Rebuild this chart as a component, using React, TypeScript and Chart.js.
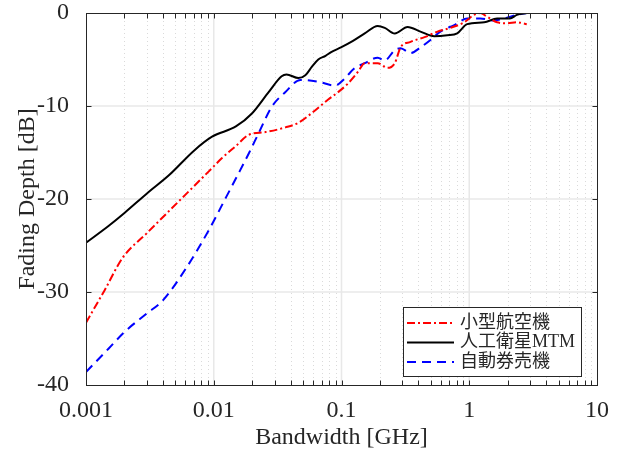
import React, { useEffect, useRef } from 'react';
import { Chart, registerables } from 'chart.js';

Chart.register(...registerables);

// ---- data ----
const seriesLabels = ['小型航空機', '人工衛星MTM', '自動券売機'];
const seriesColors = ['#ff0000', '#000000', '#0000ff'];

const aircraftX = [0.001, 0.0014, 0.00194, 0.00298, 0.00537, 0.00919, 0.0116, 0.0149, 0.0188, 0.0255, 0.0364, 0.046, 0.058, 0.0787, 0.0942, 0.112, 0.135, 0.152, 0.192, 0.23, 0.261, 0.29, 0.347, 0.447, 0.564, 0.711, 0.913, 1.09, 1.22, 1.38, 1.65, 1.97, 2.36, 2.82];
const aircraftY = [-33.3, -29.8, -26.3, -23.7, -20.2, -17.0, -15.6, -14.3, -13.1, -12.8, -12.3, -11.8, -10.8, -9.3, -8.5, -7.6, -6.3, -5.4, -5.4, -5.9, -5.4, -3.7, -3.1, -2.6, -2.0, -1.6, -1.0, -0.2, 0, -0.4, -1.0, -1.1, -1.0, -1.2];

const satelliteX = [0.001, 0.0015, 0.002, 0.003, 0.0045, 0.007, 0.0097, 0.0149, 0.0199, 0.0269, 0.034, 0.0371, 0.046, 0.0521, 0.0585, 0.0658, 0.075, 0.083, 0.099, 0.123, 0.152, 0.192, 0.218, 0.261, 0.329, 0.415, 0.533, 0.673, 0.805, 0.963, 1.31, 1.65, 2.08, 2.36, 2.82];
const satelliteY = [-24.7, -22.9, -21.5, -19.4, -17.4, -14.8, -13.3, -12.2, -10.8, -8.5, -6.8, -6.6, -7.0, -6.7, -5.8, -5.0, -4.6, -4.2, -3.7, -3.0, -2.2, -1.4, -1.6, -2.2, -1.5, -2.0, -2.5, -2.4, -2.2, -1.2, -1.0, -0.6, -0.6, -0.2, 0];

const ticketX = [0.001, 0.0015, 0.002, 0.003, 0.004, 0.0061, 0.00919, 0.0125, 0.0157, 0.0188, 0.0225, 0.0284, 0.0364, 0.0477, 0.0658, 0.0892, 0.105, 0.125, 0.152, 0.192, 0.218, 0.261, 0.29, 0.347, 0.415, 0.497, 0.594, 0.764, 0.963, 1.22, 1.56, 1.87, 2.36, 2.82];
const ticketY = [-38.6, -36.1, -34.3, -32.3, -30.9, -27.4, -23.3, -19.8, -17.2, -15.1, -12.9, -10.1, -8.5, -7.2, -7.4, -7.8, -7.1, -6.0, -5.4, -4.8, -5.1, -4.0, -3.8, -4.3, -3.7, -2.9, -2.0, -1.3, -0.6, -0.6, -0.8, -0.6, -0.2, 0];

const xTickValues = [0.001, 0.01, 0.1, 1, 10];
const xTickLabels = ['0.001', '0.01', '0.1', '1', '10'];
const yTickValues = [-40, -30, -20, -10, 0];
const yTickLabels = ['-40', '-30', '-20', '-10', '0'];

const xTitle = 'Bandwidth [GHz]';
const yTitle = 'Fading Depth [dB]';

const AXIS_COLOR = '#262626';
const SERIF = "'Liberation Serif', 'Times New Roman', serif";
const LEGEND_FONT = "18px 'Liberation Serif', 'Noto Sans CJK JP', serif";

function toPoints(xs: number[], ys: number[]) {
  return xs.map((x, i) => ({ x, y: ys[i] }));
}

function minorValues(): number[] {
  const out: number[] = [];
  for (let d = -3; d < 1; d++) {
    for (let m = 2; m <= 9; m++) out.push(m * Math.pow(10, d));
  }
  return out;
}

const axesPlugin = {
  id: 'matlabAxes',
  beforeDatasetsDraw(chart: any) {
    const { ctx, chartArea, scales } = chart;
    const { left, right, top, bottom } = chartArea;
    const xs = scales.x;
    const ys = scales.y;
    ctx.save();
    ctx.lineWidth = 1;
    // minor x grid (dotted)
    ctx.strokeStyle = '#dadada';
    ctx.setLineDash([1, 3]);
    for (const v of minorValues()) {
      const px = Math.round(xs.getPixelForValue(v)) + 0.5;
      ctx.beginPath();
      ctx.moveTo(px, top);
      ctx.lineTo(px, bottom);
      ctx.stroke();
    }
    // major grid
    ctx.setLineDash([]);
    ctx.strokeStyle = '#e8e8e8';
    ctx.lineWidth = 1.5;
    for (const v of xTickValues) {
      const px = xs.getPixelForValue(v);
      if (px <= left + 1 || px >= right - 1) continue;
      ctx.beginPath();
      ctx.moveTo(px, top);
      ctx.lineTo(px, bottom);
      ctx.stroke();
    }
    for (const v of yTickValues) {
      const py = ys.getPixelForValue(v);
      if (py <= top + 1 || py >= bottom - 1) continue;
      ctx.beginPath();
      ctx.moveTo(left, py);
      ctx.lineTo(right, py);
      ctx.stroke();
    }
    ctx.restore();
  },
  afterDatasetsDraw(chart: any) {
    const { ctx, chartArea, scales } = chart;
    const { left, right, top, bottom } = chartArea;
    const xs = scales.x;
    const ys = scales.y;
    ctx.save();
    ctx.strokeStyle = AXIS_COLOR;
    ctx.lineWidth = 1;
    ctx.setLineDash([]);
    const L = Math.round(left) + 0.5;
    const R = Math.round(right) + 0.5;
    const T = Math.round(top) + 0.5;
    const B = Math.round(bottom) + 0.5;
    ctx.strokeRect(L, T, R - L, B - T);
    const tl = 5;
    ctx.beginPath();
    for (const v of [...xTickValues, ...minorValues()]) {
      const px = Math.round(xs.getPixelForValue(v)) + 0.5;
      ctx.moveTo(px, B);
      ctx.lineTo(px, B - tl);
      ctx.moveTo(px, T);
      ctx.lineTo(px, T + tl);
    }
    for (const v of yTickValues) {
      const py = Math.round(ys.getPixelForValue(v)) + 0.5;
      ctx.moveTo(L, py);
      ctx.lineTo(L + tl, py);
      ctx.moveTo(R, py);
      ctx.lineTo(R - tl, py);
    }
    ctx.stroke();
    ctx.restore();
  },
  afterDraw(chart: any) {
    const { ctx, chartArea } = chart;
    const datasets = chart.data.datasets;
    ctx.save();
    ctx.font = LEGEND_FONT;
    let maxW = 0;
    for (const ds of datasets) maxW = Math.max(maxW, ctx.measureText(ds.label).width);
    const lineLen = 47;
    const boxW = 4 + lineLen + 6 + maxW + 6;
    const rowH = 19.5;
    const boxH = 16 + rowH * (datasets.length - 1) + 14;
    const boxR = Math.round(chartArea.right) - 16;
    const boxB = Math.round(chartArea.bottom) - 9;
    const boxL = Math.round(boxR - boxW);
    const boxT = Math.round(boxB - boxH);
    ctx.fillStyle = '#ffffff';
    ctx.fillRect(boxL + 0.5, boxT + 0.5, boxR - boxL, boxB - boxT);
    ctx.strokeStyle = AXIS_COLOR;
    ctx.lineWidth = 1;
    ctx.strokeRect(boxL + 0.5, boxT + 0.5, boxR - boxL, boxB - boxT);
    datasets.forEach((ds: any, i: number) => {
      const y = boxT + 16 + i * rowH;
      ctx.strokeStyle = ds.borderColor;
      ctx.lineWidth = ds.borderWidth;
      ctx.setLineDash(ds.borderDash || []);
      ctx.beginPath();
      ctx.moveTo(boxL + 4, y);
      ctx.lineTo(boxL + 4 + lineLen, y);
      ctx.stroke();
      ctx.setLineDash([]);
      ctx.fillStyle = AXIS_COLOR;
      ctx.textBaseline = 'middle';
      ctx.textAlign = 'left';
      ctx.fillText(ds.label, boxL + 4 + lineLen + 6, y);
    });
    ctx.restore();
  },
};

export default function App() {
  const canvasRef = useRef<HTMLCanvasElement | null>(null);

  useEffect(() => {
    const canvas = canvasRef.current;
    if (!canvas) return;
    const chart = new Chart(canvas, {
      type: 'line',
      data: {
        datasets: [
          {
            label: seriesLabels[0],
            data: toPoints(aircraftX, aircraftY),
            borderColor: seriesColors[0],
            borderWidth: 2,
            borderDash: [8, 3, 2, 3],
            pointRadius: 0,
            cubicInterpolationMode: 'monotone',
            fill: false,
          },
          {
            label: seriesLabels[1],
            data: toPoints(satelliteX, satelliteY),
            borderColor: seriesColors[1],
            borderWidth: 2,
            borderDash: [],
            pointRadius: 0,
            cubicInterpolationMode: 'monotone',
            fill: false,
          },
          {
            label: seriesLabels[2],
            data: toPoints(ticketX, ticketY),
            borderColor: seriesColors[2],
            borderWidth: 2,
            borderDash: [9, 6],
            pointRadius: 0,
            cubicInterpolationMode: 'monotone',
            fill: false,
          },
        ],
      },
      options: {
        responsive: false,
        animation: false,
        devicePixelRatio: 1,
        parsing: false as any,
        layout: { padding: { left: 0, right: 27, top: 13, bottom: 0 } },
        plugins: {
          legend: { display: false },
          tooltip: { enabled: false },
        },
        scales: {
          x: {
            type: 'logarithmic',
            min: 0.001,
            max: 10,
            afterBuildTicks: (scale: any) => {
              scale.ticks = xTickValues.map((v) => ({ value: v, major: true }));
            },
            afterFit: (scale: any) => {
              scale.height = 67;
              scale.paddingLeft = 0;
              scale.paddingRight = 0;
            },
            grid: { display: false },
            border: { display: false },
            ticks: {
              autoSkip: false,
              maxRotation: 0,
              padding: 3,
              color: AXIS_COLOR,
              font: { family: SERIF, size: 24 },
              callback: (value: any) => {
                const i = xTickValues.findIndex((v) => Math.abs(v - Number(value)) < v * 1e-6);
                return i >= 0 ? xTickLabels[i] : '';
              },
            },
            title: {
              display: true,
              text: xTitle,
              color: AXIS_COLOR,
              font: { family: SERIF, size: 24 },
              padding: { top: 0, bottom: 0 },
            },
          },
          y: {
            type: 'linear',
            min: -40,
            max: 0,
            afterBuildTicks: (scale: any) => {
              scale.ticks = yTickValues.map((v) => ({ value: v }));
            },
            afterFit: (scale: any) => {
              scale.width = 86;
              scale.paddingTop = 0;
              scale.paddingBottom = 0;
            },
            grid: { display: false },
            border: { display: false },
            ticks: {
              padding: 9,
              color: AXIS_COLOR,
              font: { family: SERIF, size: 24 },
              callback: (value: any) => {
                const i = yTickValues.indexOf(Number(value));
                return i >= 0 ? yTickLabels[i] : '';
              },
            },
            title: {
              display: true,
              text: yTitle,
              color: AXIS_COLOR,
              font: { family: SERIF, size: 24 },
              padding: { top: 13, bottom: 0 },
            },
          },
        },
      },
      plugins: [axesPlugin],
    } as any);
    return () => chart.destroy();
  }, []);

  return (
    <div style={{ position: 'absolute', left: 0, top: 0, width: 624, height: 452, background: '#ffffff' }}>
      <canvas ref={canvasRef} width={624} height={452} style={{ display: 'block' }} />
    </div>
  );
}
